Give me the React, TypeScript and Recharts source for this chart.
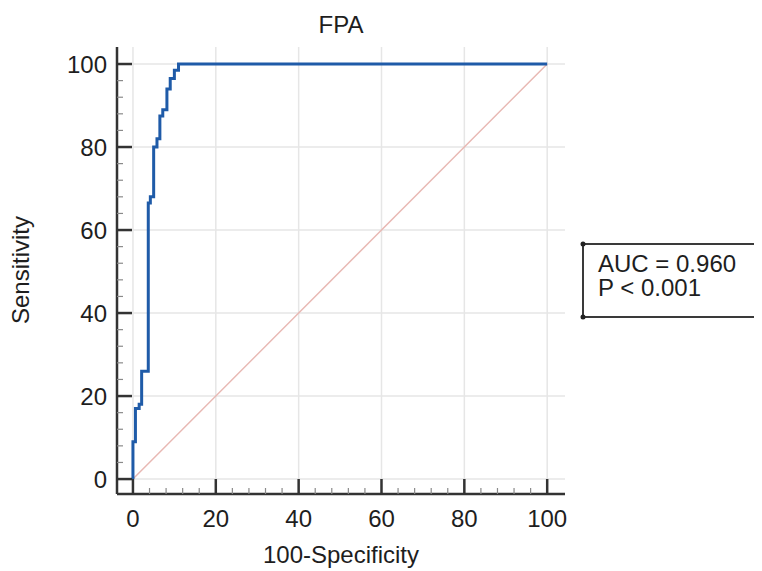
import React from 'react';
import { LineChart, Line, XAxis, YAxis, CartesianGrid } from 'recharts';

// ROC curve points (100-Specificity, Sensitivity)
const rocFpr = [0, 0, 0.6, 1.5, 2.1, 3.7, 4.2, 5.0, 5.8, 6.5, 7.2, 8.2, 9.0, 10.0, 11.0, 100];
const rocSens = [0, 9, 17, 18, 26, 66.5, 68, 80, 82, 87.5, 89, 94, 96.5, 98.5, 100, 100];

// Reference diagonal
const diagX = [0, 100];
const diagY = [0, 100];

const majorTicks = [0, 20, 40, 60, 80, 100];
const allTicks = [0, 4, 8, 12, 16, 20, 24, 28, 32, 36, 40, 44, 48, 52, 56, 60, 64, 68, 72, 76, 80, 84, 88, 92, 96, 100];

const title = 'FPA';
const xLabel = '100-Specificity';
const yLabel = 'Sensitivity';
const aucText = 'AUC = 0.960';
const pText = 'P < 0.001';

const rocData = rocFpr.map((x, i) => ({ x, y: rocSens[i] }));
const diagData = diagX.map((x, i) => ({ x, y: diagY[i] }));

const FONT = '"Liberation Sans", Arial, sans-serif';
const FS = 24;
const AXIS = '#333333';
const TXT = '#1e1e1e';

const YTick = (props: any) => {
  const { x, y, payload } = props;
  const v = payload.value;
  const major = majorTicks.includes(v);
  return (
    <g>
      <line x1={x} x2={x + (major ? 15 : 6)} y1={y} y2={y} stroke={major ? AXIS : '#8a8a8a'} strokeWidth={major ? 2.5 : 1.2} />
      {major && (
        <text x={x - 10} y={y + 8.5} textAnchor="end" fontFamily={FONT} fontSize={FS} fill={TXT}>
          {v}
        </text>
      )}
    </g>
  );
};

const XTick = (props: any) => {
  const { x, y, payload } = props;
  const v = payload.value;
  const major = majorTicks.includes(v);
  return (
    <g>
      <line x1={x} x2={x} y1={y} y2={y - (major ? 15 : 6)} stroke={major ? AXIS : '#8a8a8a'} strokeWidth={major ? 2.5 : 1.2} />
      {major && (
        <text x={x} y={y + 33} textAnchor="middle" fontFamily={FONT} fontSize={FS} fill={TXT}>
          {v}
        </text>
      )}
    </g>
  );
};

export default function App() {
  return (
    <div style={{ position: 'relative', width: 754, height: 563 }}>
      <style>{'html,body{overflow:hidden}'}</style>
      <LineChart width={754} height={555} margin={{ top: 39, right: 197, bottom: 0, left: 0 }}>
        <CartesianGrid
          horizontalValues={majorTicks}
          verticalValues={majorTicks}
          stroke="#e6e6e6"
          strokeWidth={1.5}
        />
        <XAxis
          dataKey="x"
          type="number"
          domain={[-3.85, 104.3]}
          ticks={allTicks}
          interval={0}
          allowDataOverflow
          height={69}
          tickSize={0}
          tickMargin={0}
          tickLine={false}
          tick={<XTick />}
          axisLine={{ stroke: AXIS, strokeWidth: 2.5 }}
        />
        <YAxis
          dataKey="y"
          type="number"
          domain={[-3.6, 104.1]}
          ticks={allTicks}
          interval={0}
          allowDataOverflow
          width={109}
          tickSize={0}
          tickMargin={0}
          tickLine={false}
          tick={<YTick />}
          axisLine={{ stroke: AXIS, strokeWidth: 2.5 }}
        />
        <Line
          data={diagData}
          dataKey="y"
          type="linear"
          stroke="#e8b8b3"
          strokeWidth={1.5}
          dot={false}
          activeDot={false}
          isAnimationActive={false}
        />
        <Line
          data={rocData}
          dataKey="y"
          type="stepAfter"
          stroke="#1f5ba8"
          strokeWidth={3}
          dot={false}
          activeDot={false}
          isAnimationActive={false}
        />
      </LineChart>
      <svg
        width={754}
        height={563}
        style={{ position: 'absolute', left: 0, top: 0, pointerEvents: 'none' }}
      >
        <text x={333} y={25} textAnchor="middle" fontFamily={FONT} fontSize={FS} fill={TXT}>
          {title}
        </text>
        <text x={333} y={555} textAnchor="middle" fontFamily={FONT} fontSize={FS} fill={TXT}>
          {xLabel}
        </text>
        <text
          x={21}
          y={262}
          transform="rotate(-90 21 262)"
          textAnchor="middle"
          fontFamily={FONT}
          fontSize={FS}
          fill={TXT}
        >
          {yLabel}
        </text>
        <rect x={575} y={236} width={240} height={73} fill="#fff" stroke="#3a3a3a" strokeWidth={2} />
        <circle cx={575} cy={236} r={2.5} fill="#222" />
        <circle cx={575} cy={309} r={2.5} fill="#222" />
        <text x={590} y={264} fontFamily={FONT} fontSize={FS} fill={TXT}>
          {aucText}
        </text>
        <text x={590} y={288} fontFamily={FONT} fontSize={FS} fill={TXT}>
          {pText}
        </text>
      </svg>
    </div>
  );
}
